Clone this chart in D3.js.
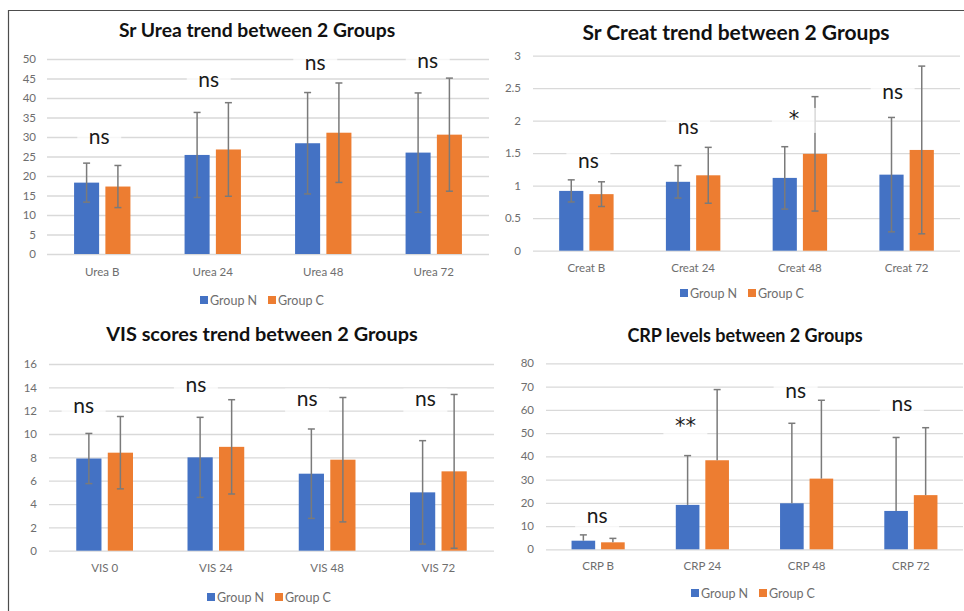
<!DOCTYPE html>
<html>
<head>
<meta charset="utf-8">
<script src="https://cdn.jsdelivr.net/npm/d3@7"></script>
<style>
  html, body { margin: 0; padding: 0; background: #fff; }
  svg { display: block; font-family: Lato, "Open Sans", sans-serif; }
</style>
</head>
<body>
<svg id="chart" width="964" height="611"></svg>
<script>
// ---------------- DATA ----------------
const seriesNames = ["Group N", "Group C"];

const ureaCategories = ["Urea B", "Urea 24", "Urea 48", "Urea 72"];
const ureaGroupN = [18.3, 25.4, 28.4, 26.0];
const ureaGroupC = [17.3, 26.8, 31.1, 30.6];
const ureaSdN = [5.0, 10.9, 13.0, 15.3];
const ureaSdC = [5.4, 12.0, 12.75, 14.5];
const ureaTicks = [0, 5, 10, 15, 20, 25, 30, 35, 40, 45, 50];
const ureaSig = ["ns", "ns", "ns", "ns"];
const ureaSigAt = [28.3, 42.7, 47.3, 47.8];

const creatCategories = ["Creat B", "Creat 24", "Creat 48", "Creat 72"];
const creatGroupN = [0.92, 1.06, 1.12, 1.17];
const creatGroupC = [0.87, 1.16, 1.49, 1.55];
const creatSdN = [0.17, 0.25, 0.48, 0.88];
const creatSdC = [0.19, 0.43, 0.88, 1.29];
const creatTicks = [0, 0.5, 1, 1.5, 2, 2.5, 3];
const creatSig = ["ns", "ns", "*", "ns"];
const creatSigAt = [1.27, 1.80, 1.92, 2.33];

const visCategories = ["VIS 0", "VIS 24", "VIS 48", "VIS 72"];
const visGroupN = [7.9, 8.0, 6.6, 5.0];
const visGroupC = [8.4, 8.9, 7.8, 6.8];
const visSdN = [2.15, 3.43, 3.83, 4.43];
const visSdC = [3.1, 4.04, 5.33, 6.59];
const visTicks = [0, 2, 4, 6, 8, 10, 12, 14, 16];
const visSig = ["ns", "ns", "ns", "ns"];
const visSigAt = [11.84, 13.56, 12.36, 12.36];

const crpCategories = ["CRP B", "CRP 24", "CRP 48", "CRP 72"];
const crpGroupN = [3.7, 19.1, 19.8, 16.5];
const crpGroupC = [3.0, 38.3, 30.4, 23.3];
const crpSdN = [2.5, 21.2, 34.4, 31.6];
const crpSdC = [1.7, 30.4, 33.7, 29.0];
const crpTicks = [0, 10, 20, 30, 40, 50, 60, 70, 80];
const crpSig = ["ns", "**", "ns", "ns"];
const crpSigAt = [11.1, 50.0, 64.9, 59.3];

// ---------------- STYLE ----------------
const colors = ["#4472C4", "#ED7D31"];
const gridColor = "#d9d9d9";
const axisTextColor = "#6e6e6e";
const errColor = "#7a7a7a";

const svg = d3.select("#chart");

// outer frame (top and left edges)
svg.append("path")
  .attr("d", "M8.5,611 V10.5 H964")
  .attr("fill", "none").attr("stroke", "#4d4d4d").attr("stroke-width", 1.2);

function drawPanel(cfg) {
  const g = svg.append("g");
  const y = d3.scaleLinear().domain(cfg.domain).range(cfg.yRange);
  const x0 = d3.scaleBand().domain(cfg.categories).range(cfg.xRange).padding(0);
  const groupW = x0.step() * 0.51;
  const x1 = d3.scaleBand().domain(seriesNames).range([0, groupW]).paddingInner(0.2).paddingOuter(0);

  // gridlines
  const grid = g.append("g").attr("transform", `translate(${cfg.xRange[0]},0)`)
    .call(d3.axisLeft(y).tickValues(cfg.ticks).tickSize(-(cfg.xRange[1] - cfg.xRange[0])).tickFormat(""));
  grid.select(".domain").remove();
  grid.selectAll(".tick line").attr("stroke", gridColor).attr("stroke-width", 1.3);

  // y labels
  const yl = g.append("g").attr("transform", `translate(${cfg.yLabelX},0)`)
    .call(d3.axisLeft(y).tickValues(cfg.ticks).tickSize(0).tickPadding(0).tickFormat(d3.format("")));
  yl.select(".domain").remove();
  yl.selectAll("text").attr("fill", axisTextColor).style("font-size", "11.5px").style("font-family", "Lato, sans-serif");

  // x labels
  const xl = g.append("g").attr("transform", `translate(0,${cfg.catLabelY})`)
    .call(d3.axisBottom(x0).tickSize(0).tickPadding(0));
  xl.select(".domain").remove();
  xl.selectAll("text").attr("fill", axisTextColor).attr("dy", "0").attr("y", 0)
    .style("font-size", "11.5px").style("font-family", "Lato, sans-serif");

  // significance label boxes
  const sigG = g.append("g");
  cfg.sig.forEach((s, i) => {
    const cx = x0(cfg.categories[i]) + x0.step() / 2 + cfg.sigDx[i];
    const by = y(cfg.sigAt[i]);
    sigG.append("rect").attr("x", cx - 22).attr("y", by - 18).attr("width", 44).attr("height", 25)
      .attr("fill", "#fff").attr("fill-opacity", 0.75);
  });

  // bars
  const rows = cfg.categories.map((c, i) => ({
    cat: c,
    vals: [
      { s: seriesNames[0], v: cfg.n[i], sd: cfg.sdN[i], col: colors[0] },
      { s: seriesNames[1], v: cfg.c[i], sd: cfg.sdC[i], col: colors[1] }
    ]
  }));
  const grp = g.selectAll(".grp").data(rows).enter().append("g")
    .attr("transform", d => `translate(${x0(d.cat) + (x0.step() - groupW) / 2},0)`);
  grp.selectAll("rect").data(d => d.vals).enter().append("rect")
    .attr("x", d => x1(d.s)).attr("width", x1.bandwidth())
    .attr("y", d => y(d.v)).attr("height", d => y(0) - y(d.v))
    .attr("fill", d => d.col);

  // error bars
  const eb = grp.selectAll(".eb").data(d => d.vals).enter().append("g")
    .attr("transform", d => `translate(${x1(d.s) + x1.bandwidth() / 2},0)`);
  eb.append("line")
    .attr("y1", d => y(d.v + d.sd))
    .attr("y2", d => cfg.plusOnly ? y(d.v) : y(Math.max(0, d.v - d.sd)))
    .attr("stroke", errColor).attr("stroke-width", 1.5);
  eb.append("line").attr("x1", -3.5).attr("x2", 3.5)
    .attr("y1", d => y(d.v + d.sd)).attr("y2", d => y(d.v + d.sd))
    .attr("stroke", errColor).attr("stroke-width", 1.5);
  if (!cfg.plusOnly) {
    eb.append("line").attr("x1", -3.5).attr("x2", 3.5)
      .attr("y1", d => y(Math.max(0, d.v - d.sd))).attr("y2", d => y(Math.max(0, d.v - d.sd)))
      .attr("stroke", errColor).attr("stroke-width", 1.5);
  }

  // significance labels
  cfg.sig.forEach((s, i) => {
    const cx = x0(cfg.categories[i]) + x0.step() / 2 + cfg.sigDx[i];
    const by = y(cfg.sigAt[i]);
    const star = s.includes("*");
    sigG.append("text").attr("x", cx).attr("y", by)
      .attr("text-anchor", "middle").attr("fill", "#1a1a1a")
      .style("font-family", star ? "'DejaVu Sans', sans-serif" : "Lato, sans-serif")
      .style("font-size", "21px")
      .text(s);
  });
  svg.node().appendChild(sigG.node());

  // title
  g.append("text").attr("x", cfg.titleX).attr("y", cfg.titleY)
    .attr("text-anchor", "middle").attr("fill", "#111")
    .style("font-size", cfg.titleSize + "px").style("font-weight", "bold")
    .text(cfg.title);

  // legend
  const lg = g.append("g").attr("transform", `translate(${cfg.legendX},${cfg.legendY})`);
  seriesNames.forEach((s, i) => {
    const ox = i * 68;
    lg.append("rect").attr("x", ox).attr("y", -4).attr("width", 8).attr("height", 8).attr("fill", colors[i]);
    lg.append("text").attr("x", ox + 10).attr("y", 4.5).attr("fill", axisTextColor)
      .style("font-size", "12.5px").text(s);
  });
}

drawPanel({
  title: "Sr Urea trend between 2 Groups", titleX: 257, titleY: 36.5, titleSize: 19.3,
  categories: ureaCategories, n: ureaGroupN, c: ureaGroupC, sdN: ureaSdN, sdC: ureaSdC,
  ticks: ureaTicks, domain: [0, 50], xRange: [47, 489], yRange: [254, 59], yLabelX: 36,
  catLabelY: 276, legendX: 200, legendY: 300,
  sig: ureaSig, sigAt: ureaSigAt, sigDx: [-3, -4, -8, -6], plusOnly: false
});

drawPanel({
  title: "Sr Creat trend between 2 Groups", titleX: 736, titleY: 39.5, titleSize: 21,
  categories: creatCategories, n: creatGroupN, c: creatGroupC, sdN: creatSdN, sdC: creatSdC,
  ticks: creatTicks, domain: [0, 3], xRange: [533, 960], yRange: [250.7, 55.7], yLabelX: 521,
  catLabelY: 272, legendX: 680, legendY: 293,
  sig: creatSig, sigAt: creatSigAt, sigDx: [2, -5, -6, -14], plusOnly: false
});

drawPanel({
  title: "VIS scores trend between 2 Groups", titleX: 262, titleY: 341, titleSize: 19.9,
  categories: visCategories, n: visGroupN, c: visGroupC, sdN: visSdN, sdC: visSdC,
  ticks: visTicks, domain: [0, 16], xRange: [49, 494], yRange: [550.7, 364], yLabelX: 37,
  catLabelY: 572, legendX: 207, legendY: 597,
  sig: visSig, sigAt: visSigAt, sigDx: [-21, -20, -20, -13], plusOnly: false
});

drawPanel({
  title: "CRP levels between 2 Groups", titleX: 745, titleY: 342, titleSize: 18,
  categories: crpCategories, n: crpGroupN, c: crpGroupC, sdN: crpSdN, sdC: crpSdC,
  ticks: crpTicks, domain: [0, 80], xRange: [546, 963], yRange: [549.3, 363.3], yLabelX: 534,
  catLabelY: 570, legendX: 691, legendY: 593,
  sig: crpSig, sigAt: crpSigAt, sigDx: [-1, -17, -11, -9], plusOnly: true
});
</script>
</body>
</html>
